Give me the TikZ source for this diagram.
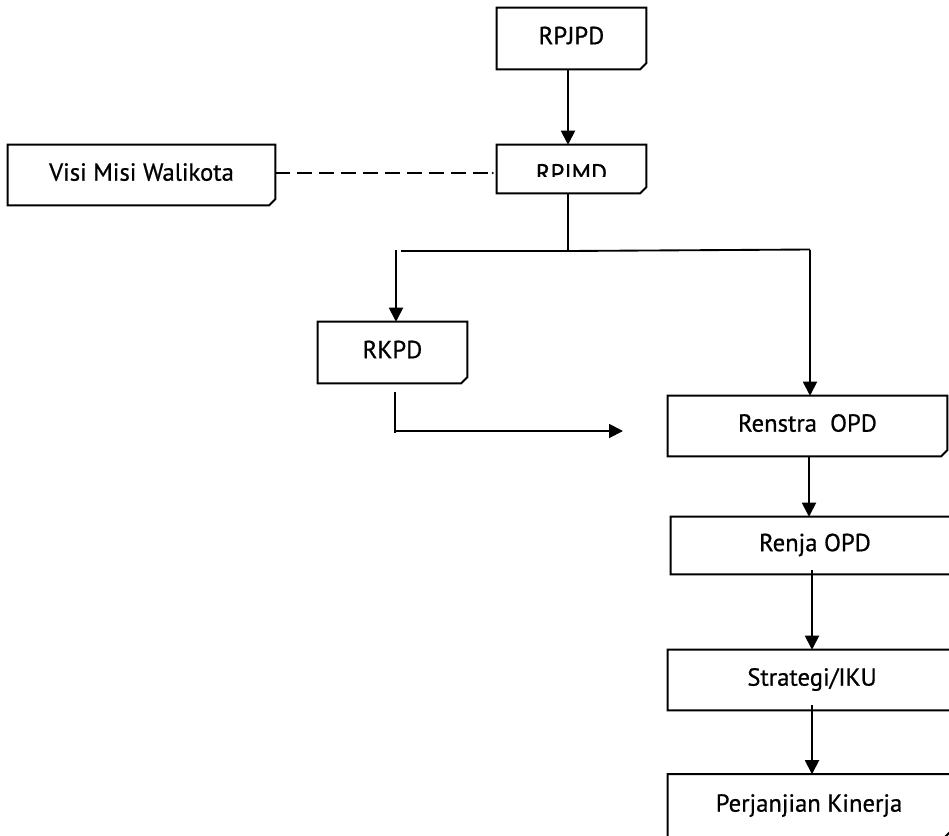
\documentclass[tikz,border=0pt]{standalone}
\usepackage{fontspec}
\setmainfont[FakeBold=0.7]{PT Sans}
\usetikzlibrary{arrows.meta,calc}
\begin{document}
\begin{tikzpicture}[x=0.75pt,y=-0.75pt,
  nbox/.style={rectangle, inner sep=0pt, font=\fontsize{18.5}{22}\selectfont,
    text height=13pt, text depth=4.5pt},
  outl/.style={line width=1.5pt, line join=miter},
  conn/.style={line width=1.4pt},
  arr/.style={conn, -{Triangle[width=10.5pt,length=10.5pt]}},
  dashline/.style={line width=1.1pt, dash pattern=on 11pt off 5.5pt}
]
\clip (0,0) rectangle (949,835);
\fill[white] (0,0) rectangle (949,835);

\node[nbox, minimum width=111.75pt, minimum height=45.75pt] (rpjpd) at (571.5,38.5) {RPJPD};
\node[nbox, minimum width=111.75pt, minimum height=36pt] (rpjmd) at (571.5,169) {};
\begin{scope}
  \clip (497,145) rectangle (646,176.5);
  \node[font=\fontsize{18.5}{22}\selectfont, inner sep=0pt, anchor=base] (rpjmdtext) at (571.5,181.5) {RPJMD};
\end{scope}
\node[nbox, minimum width=200.25pt, minimum height=45pt] (visi) at (141.5,175) {Visi Misi Walikota};
\node[nbox, minimum width=111.75pt, minimum height=45.75pt] (rkpd) at (392.5,352.5) {RKPD};
\node[nbox, minimum width=209.25pt, minimum height=45pt] (renstra) at (807.5,426) {Renstra\ \ OPD};
\node[nbox, minimum width=216pt, minimum height=42.75pt] (renja) at (815,545.5) {Renja OPD};
\node[nbox, minimum width=216pt, minimum height=45pt] (strategi) at (812,680) {Strategi/IKU};
\node[nbox, minimum width=211.5pt, minimum height=47.25pt] (perjanjian) at (809,806) {Perjanjian Kinerja};

\foreach \n in {rpjpd,rpjmd,visi,rkpd,renstra,renja,strategi,perjanjian}{
  \draw[outl] (\n.north west) -- (\n.north east) -- ([yshift=4.5pt]\n.south east)
     -- ([xshift=-4.5pt]\n.south east) -- (\n.south west) -- cycle;
  \fill ([yshift=4.5pt]\n.south east) .. controls ([xshift=-4pt,yshift=1.5pt]\n.south east) .. ([xshift=-4.5pt]\n.south east) -- cycle;
}

% coordinates for connector routing
\coordinate (c1) at (568,0);
\coordinate (jm) at (568,251);
\coordinate (jl) at (396,251);
\coordinate (jls) at (401,251);
\coordinate (jr) at (810,249.5);
\coordinate (k1) at (395,392);
\coordinate (k2) at (395,433);
\coordinate (k2h) at (395,431);
\coordinate (k3) at (623,431);
\coordinate (c2) at (809,0);
\coordinate (c3) at (812,0);

\draw[arr] (rpjpd.south -| c1) -- (rpjmd.north -| c1);
\draw[dashline] (visi.east |- 0,173) -- (493,173);
\fill (rpjmd.west |- 0,173) ++(-4,0) circle (0.9pt);
\draw[conn] (rpjmd.south -| c1) -- (jm);
\draw[conn] (jls) -- (jm) -- (jr);
\draw[arr] ([yshift=0.5pt]jl) -- (rkpd.north -| jl);
\draw[arr] (jr) -- (renstra.north -| jr);
\draw[conn] (k1) -- (k2);
\draw[arr] (k2h) -- (k3);
\draw[arr] (renstra.south -| c2) -- (renja.north -| c2);
\draw[arr] ([yshift=3pt]renja.south -| c3) -- (strategi.north -| c3);
\draw[arr] ([yshift=4pt]strategi.south -| c3) -- (perjanjian.north -| c3);
\end{tikzpicture}
\end{document}
